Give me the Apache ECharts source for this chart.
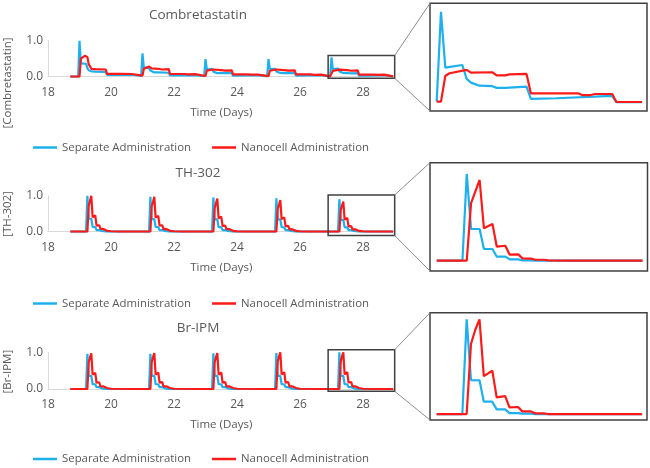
<!DOCTYPE html>
<html>
<head>
<meta charset="utf-8">
<script src="https://cdn.jsdelivr.net/npm/echarts@6/dist/echarts.min.js"></script>
<style>
  html, body { margin: 0; padding: 0; background: #fff; }
  #main { width: 650px; height: 468px; }
</style>
</head>
<body>
<div id="main"></div>
<script>
// panel titles / axis names / legend names
var panelTitles = ['Combretastatin', 'TH-302', 'Br-IPM'];
var yNames = ['[Combretastatin]', '[TH-302]', '[Br-IPM]'];
var seriesNames = ['Separate Administration', 'Nanocell Administration'];
var xName = 'Time (Days)';

// x axis (days)
var xMin = 18, xMax = 29, xStep = 2;
// zoomed window (days), same for all three insets
var zoomX = [26.893, 29.006];
// zoomed window (value) for each panel
var zoomY = [[-0.044, 0.59], [-0.107, 1.02], [-0.063, 1.07]];

// [day, value] corners
var combSep = [
  [18.708,0],[18.958,0],
  [19.0,1.0],[19.042,0.37],[19.208,0.36],[19.25,0.24],[19.292,0.18],[19.375,0.15],[19.5,0.14],[19.542,0.13],[19.833,0.13],[19.875,0.05],[20.667,0.055],[20.708,0.02],[20.958,0.02],
  [21.0,0.65],[21.042,0.25],[21.208,0.25],[21.25,0.17],[21.292,0.14],[21.375,0.12],[21.5,0.12],[21.542,0.11],[21.833,0.11],[21.875,0.035],[22.667,0.045],[22.708,0.012],[22.958,0.012],
  [23.0,0.49],[23.042,0.2],[23.208,0.22],[23.25,0.14],[23.292,0.12],[23.375,0.1],[23.5,0.1],[23.542,0.09],[23.833,0.1],[23.875,0.03],[24.667,0.045],[24.708,0.01],[24.958,0.01],
  [25.0,0.49],[25.042,0.21],[25.208,0.22],[25.25,0.145],[25.292,0.125],[25.375,0.105],[25.5,0.1],[25.542,0.092],[25.833,0.1],[25.875,0.028],[26.667,0.045],[26.708,0.01],[26.958,0.011],
  [27.0,0.54],[27.042,0.211],[27.208,0.227],[27.25,0.145],[27.292,0.123],[27.375,0.105],[27.5,0.102],[27.542,0.092],[27.625,0.092],[27.833,0.1],[27.875,0.027],[28.125,0.031],[28.667,0.045],[28.708,0.008],[28.958,0.008]
];
var combNano = [
  [18.708,0],[19.0,0],
  [19.042,0.5],[19.083,0.54],[19.167,0.58],[19.208,0.58],[19.25,0.55],[19.292,0.35],[19.375,0.22],[19.5,0.21],[19.542,0.2],[19.833,0.2],[19.875,0.08],[20.333,0.08],[20.375,0.075],[20.667,0.075],[20.708,0.03],[21.0,0.03],
  [21.042,0.22],[21.083,0.25],[21.208,0.28],[21.25,0.27],[21.292,0.23],[21.5,0.22],[21.542,0.2],[21.625,0.2],[21.667,0.21],[21.833,0.21],[21.875,0.075],[22.333,0.075],[22.375,0.065],[22.458,0.065],[22.5,0.07],[22.667,0.07],[22.708,0.02],[23.0,0.02],
  [23.042,0.17],[23.083,0.185],[23.25,0.2],[23.292,0.185],[23.5,0.185],[23.542,0.17],[23.625,0.17],[23.667,0.175],[23.833,0.175],[23.875,0.065],[24.333,0.065],[24.375,0.055],[24.458,0.055],[24.5,0.06],[24.667,0.06],[24.708,0.015],[25.0,0.015],
  [25.042,0.165],[25.083,0.18],[25.25,0.2],[25.292,0.183],[25.5,0.185],[25.542,0.168],[25.625,0.168],[25.667,0.173],[25.833,0.175],[25.875,0.062],[26.333,0.062],[26.375,0.052],[26.458,0.052],[26.5,0.058],[26.667,0.058],[26.708,0.011],[26.958,0.011],[27.0,0.011],
  [27.042,0.162],[27.083,0.178],[27.25,0.198],[27.292,0.182],[27.5,0.184],[27.542,0.166],[27.625,0.166],[27.667,0.172],[27.833,0.174],[27.875,0.06],[28.333,0.06],[28.375,0.05],[28.458,0.05],[28.5,0.056],[28.667,0.056],[28.708,0.009],[28.958,0.009]
];

var thSep = [
  [18.708,0],
  [19.208,0],[19.25,1.0],[19.292,0.36],[19.375,0.36],[19.417,0.13],[19.5,0.13],[19.542,0.045],[19.625,0.045],[19.667,0.015],[19.75,0.015],[19.792,0.003],[19.875,0.003],[19.917,0],
  [21.208,0],[21.25,0.97],[21.292,0.35],[21.375,0.35],[21.417,0.13],[21.5,0.13],[21.542,0.044],[21.625,0.044],[21.667,0.015],[21.75,0.015],[21.792,0.003],[21.875,0.003],[21.917,0],
  [23.208,0],[23.25,0.95],[23.292,0.34],[23.375,0.34],[23.417,0.125],[23.5,0.125],[23.542,0.043],[23.625,0.043],[23.667,0.014],[23.75,0.014],[23.792,0.003],[23.875,0.003],[23.917,0],
  [25.208,0],[25.25,0.93],[25.292,0.34],[25.375,0.34],[25.417,0.124],[25.5,0.124],[25.542,0.042],[25.625,0.042],[25.667,0.014],[25.75,0.014],[25.792,0.003],[25.875,0.003],[25.917,0],
  [26.958,0],[27.208,0],[27.25,0.903],[27.292,0.33],[27.375,0.33],[27.417,0.122],[27.5,0.122],[27.542,0.042],[27.625,0.042],[27.667,0.014],[27.75,0.014],[27.792,0.003],[27.875,0.003],[27.917,0],[28.958,0]
];
var thNano = [
  [18.708,0],
  [19.25,0],[19.292,0.72],[19.333,0.86],[19.375,1.0],[19.417,0.4],[19.5,0.45],[19.542,0.17],[19.625,0.18],[19.667,0.075],[19.75,0.078],[19.792,0.03],[19.875,0.026],[19.917,0.012],[20.0,0.012],[20.042,0.005],[20.25,0],
  [21.25,0],[21.292,0.7],[21.333,0.83],[21.375,0.97],[21.417,0.39],[21.5,0.44],[21.542,0.17],[21.625,0.18],[21.667,0.073],[21.75,0.076],[21.792,0.029],[21.875,0.025],[21.917,0.012],[22.0,0.012],[22.042,0.005],[22.25,0],
  [23.25,0],[23.292,0.66],[23.333,0.79],[23.375,0.92],[23.417,0.37],[23.5,0.42],[23.542,0.16],[23.625,0.17],[23.667,0.069],[23.75,0.072],[23.792,0.027],[23.875,0.024],[23.917,0.011],[24.0,0.011],[24.042,0.004],[24.25,0],
  [25.25,0],[25.292,0.63],[25.333,0.75],[25.375,0.88],[25.417,0.35],[25.5,0.4],[25.542,0.153],[25.625,0.163],[25.667,0.066],[25.75,0.069],[25.792,0.026],[25.875,0.023],[25.917,0.01],[26.0,0.01],[26.042,0.004],[26.25,0],
  [26.958,0],[27.25,0],[27.292,0.6],[27.333,0.72],[27.375,0.84],[27.417,0.337],[27.5,0.382],[27.542,0.146],[27.625,0.156],[27.667,0.063],[27.75,0.066],[27.792,0.025],[27.875,0.022],[27.917,0.01],[28.0,0.01],[28.042,0.004],[28.25,0],[28.958,0]
];

var brSep = [
  [18.708,0],
  [19.208,0],[19.25,0.96],[19.292,0.36],[19.375,0.356],[19.417,0.13],[19.5,0.13],[19.542,0.049],[19.625,0.049],[19.667,0.01],[19.75,0.01],[19.792,0.004],[19.875,0.004],[19.917,0],
  [21.208,0],[21.25,0.96],[21.292,0.36],[21.375,0.356],[21.417,0.13],[21.5,0.13],[21.542,0.049],[21.625,0.049],[21.667,0.01],[21.75,0.01],[21.792,0.004],[21.875,0.004],[21.917,0],
  [23.208,0],[23.25,0.97],[23.292,0.36],[23.375,0.356],[23.417,0.13],[23.5,0.13],[23.542,0.049],[23.625,0.049],[23.667,0.01],[23.75,0.01],[23.792,0.004],[23.875,0.004],[23.917,0],
  [25.208,0],[25.25,0.98],[25.292,0.36],[25.375,0.356],[25.417,0.13],[25.5,0.13],[25.542,0.049],[25.625,0.049],[25.667,0.01],[25.75,0.01],[25.792,0.004],[25.875,0.004],[25.917,0],
  [26.958,0],[27.208,0],[27.25,1.0],[27.292,0.359],[27.375,0.356],[27.417,0.13],[27.5,0.13],[27.542,0.049],[27.625,0.049],[27.667,0.01],[27.75,0.01],[27.792,0.004],[27.875,0.004],[27.917,0],[28.958,0]
];
var brNano = [
  [18.708,0],
  [19.25,0],[19.292,0.72],[19.333,0.86],[19.375,0.97],[19.417,0.39],[19.5,0.44],[19.542,0.17],[19.625,0.185],[19.667,0.068],[19.75,0.072],[19.792,0.027],[19.875,0.027],[19.917,0.007],[20.0,0.007],[20.042,0],
  [21.25,0],[21.292,0.73],[21.333,0.87],[21.375,0.98],[21.417,0.39],[21.5,0.45],[21.542,0.172],[21.625,0.186],[21.667,0.069],[21.75,0.073],[21.792,0.027],[21.875,0.027],[21.917,0.007],[22.0,0.007],[22.042,0],
  [23.25,0],[23.292,0.73],[23.333,0.87],[23.375,0.98],[23.417,0.39],[23.5,0.45],[23.542,0.172],[23.625,0.186],[23.667,0.069],[23.75,0.073],[23.792,0.027],[23.875,0.027],[23.917,0.007],[24.0,0.007],[24.042,0],
  [25.25,0],[25.292,0.74],[25.333,0.885],[25.375,1.0],[25.417,0.4],[25.5,0.456],[25.542,0.175],[25.625,0.19],[25.667,0.07],[25.75,0.074],[25.792,0.028],[25.875,0.028],[25.917,0.007],[26.0,0.007],[26.042,0],
  [26.958,0],[27.25,0],[27.292,0.74],[27.333,0.887],[27.375,1.0],[27.417,0.4],[27.5,0.457],[27.542,0.176],[27.625,0.19],[27.667,0.07],[27.75,0.074],[27.792,0.028],[27.875,0.028],[27.917,0.007],[28.0,0.007],[28.042,0],[28.958,0]
];

var panelData = [[combSep, combNano], [thSep, thNano], [brSep, brNano]];
var lineColors = ['#1EB0EC', '#FF1A1A'];

var FONT = '"Open Sans", sans-serif';
var TXT = '#595959';

var mainGrids = [
  {left: 48, top: 40.7, width: 346.5, height: 36},
  {left: 48, top: 195.7, width: 346.5, height: 36},
  {left: 48, top: 352.3, width: 346.5, height: 36.7}
];
var insetGrids = [
  {left: 430, top: 3.3, width: 217, height: 107.7},
  {left: 430, top: 162.7, width: 217.5, height: 108.3},
  {left: 430, top: 312.7, width: 217, height: 107.3}
];
var titleY = [15, 172.7, 328.3];
var yNameY = [83, 214, 371.7];
var legendTop = [142, 298, 453.5];

var grids = [], xAxes = [], yAxes = [], series = [], legends = [];

mainGrids.forEach(function (g, i) {
  grids.push(g);
  xAxes.push({
    gridIndex: i, type: 'value', min: xMin, max: xMax, interval: xStep,
    axisLine: {show: true, onZero: false, lineStyle: {color: '#D9D9D9', width: 1}},
    axisTick: {show: false}, splitLine: {show: false},
    axisLabel: {showMaxLabel: false, color: TXT, fontSize: 12, fontFamily: FONT, margin: 10},
    name: xName, nameLocation: 'middle', nameGap: 30,
    nameTextStyle: {color: TXT, fontSize: 11.5, fontFamily: FONT}
  });
  yAxes.push({
    gridIndex: i, type: 'value', min: 0, max: 1, interval: 1,
    axisLine: {show: true, lineStyle: {color: '#D9D9D9', width: 1}},
    axisTick: {show: false}, splitLine: {show: false},
    axisLabel: {color: TXT, fontSize: 12, fontFamily: FONT, margin: 5,
      formatter: function (v) { return v.toFixed(1); }}
  });
});
insetGrids.forEach(function (g, i) {
  grids.push(Object.assign({show: true, borderColor: '#404040', borderWidth: 1.5, backgroundColor: '#fff'}, g));
  xAxes.push({gridIndex: 3 + i, type: 'value', min: zoomX[0], max: zoomX[1], show: false});
  yAxes.push({gridIndex: 3 + i, type: 'value', min: zoomY[i][0], max: zoomY[i][1], show: false});
});

panelData.forEach(function (pair, i) {
  pair.forEach(function (data, k) {
    series.push({
      name: seriesNames[k], type: 'line', xAxisIndex: i, yAxisIndex: i,
      data: data, showSymbol: false, symbol: 'none', clip: true,
      lineStyle: {color: lineColors[k], width: 2.2}, itemStyle: {color: lineColors[k]},
      z: 2 + k
    });
  });
  pair.forEach(function (data, k) {
    series.push({
      name: seriesNames[k], type: 'line', xAxisIndex: 3 + i, yAxisIndex: 3 + i,
      data: data.filter(function (d) { return d[0] >= 26.95; }),
      showSymbol: false, symbol: 'none', clip: true,
      lineStyle: {color: lineColors[k], width: 2.2}, itemStyle: {color: lineColors[k]},
      z: 2 + k
    });
  });
  legends.push({
    left: 33, top: legendTop[i], padding: 0, data: seriesNames, icon: 'rect',
    itemWidth: 24, itemHeight: 2.5, itemGap: 21, selectedMode: false,
    textStyle: {color: TXT, fontSize: 11.4, fontFamily: FONT}
  });
});

var texts = [];
panelTitles.forEach(function (t, i) {
  texts.push({type: 'text', x: 198, y: titleY[i], z: 10,
    style: {text: t, fill: TXT, font: '13.5px ' + FONT, align: 'center', verticalAlign: 'middle'}});
  texts.push({type: 'text', x: 8, y: yNameY[i], rotation: Math.PI / 2, z: 10,
    style: {text: yNames[i], fill: TXT, font: '11.5px ' + FONT, align: 'center', verticalAlign: 'middle'}});
});

var chart = echarts.init(document.getElementById('main'), null, {renderer: 'canvas'});
chart.setOption({
  animation: false,
  backgroundColor: '#fff',
  grid: grids, xAxis: xAxes, yAxis: yAxes,
  legend: legends, series: series,
  graphic: texts
});

// zoom box on each main chart and connectors to its inset
var extra = [];
for (var i = 0; i < 3; i++) {
  var tl = chart.convertToPixel({gridIndex: i}, [zoomX[0], zoomY[i][1]]);
  var br = chart.convertToPixel({gridIndex: i}, [zoomX[1], zoomY[i][0]]);
  var itl = chart.convertToPixel({gridIndex: 3 + i}, [zoomX[0], zoomY[i][1]]);
  var ibl = chart.convertToPixel({gridIndex: 3 + i}, [zoomX[0], zoomY[i][0]]);
  extra.push({type: 'rect', z: 20, silent: true,
    shape: {x: tl[0], y: tl[1], width: br[0] - tl[0], height: br[1] - tl[1]},
    style: {fill: 'none', stroke: '#404040', lineWidth: 1.5}});
  extra.push({type: 'line', z: 20, silent: true,
    shape: {x1: br[0], y1: tl[1], x2: itl[0], y2: itl[1]},
    style: {stroke: '#8C8C8C', lineWidth: 1}});
  extra.push({type: 'line', z: 20, silent: true,
    shape: {x1: br[0], y1: br[1], x2: ibl[0], y2: ibl[1]},
    style: {stroke: '#8C8C8C', lineWidth: 1}});
}
chart.setOption({graphic: texts.concat(extra)});
</script>
</body>
</html>
